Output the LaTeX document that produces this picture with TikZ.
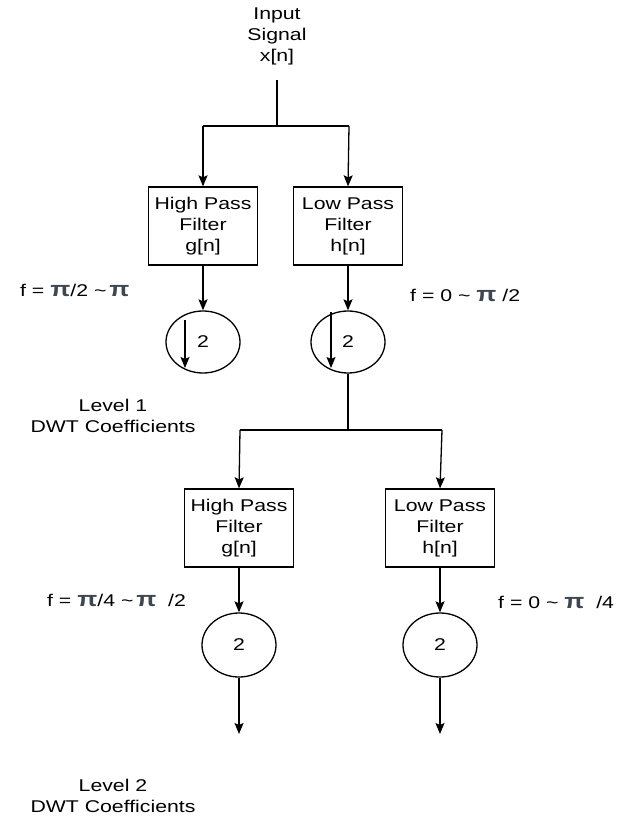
\documentclass[tikz,border=0pt]{standalone}
\usepackage{fontspec}
\setmainfont{Liberation Sans}[FakeStretch=1.25]
\usetikzlibrary{arrows.meta,shapes.geometric}
\definecolor{pigray}{HTML}{3E4650}
\newcommand\mypi{{\color{pigray}\fontsize{21}{21}\selectfont\bfseries π}}
\newcommand\tld{\textasciitilde}
\begin{document}
\begin{tikzpicture}[x=1pt,y=-1pt,
  every node/.style={font=\fontsize{17}{21}\selectfont},
  txt/.style={align=center,inner sep=0pt},
  lbl/.style={anchor=west,inner sep=0pt},
  filt/.style={draw,line width=1.3pt,minimum width=109pt,minimum height=78pt,align=center,inner sep=0pt},
  dn/.style={draw,ellipse,line width=1.3pt,minimum width=74pt,minimum height=62pt,inner sep=0pt},
  ln/.style={line width=1.3pt},
  arr/.style={line width=1.3pt,-{Stealth[length=11pt,width=9pt,inset=2pt]}}]
\useasboundingbox (0,0) rectangle (626,821);
\node[txt] (in) at (277,36) {Input\\Signal\\x[n]};
\coordinate (t0) at (277,80);
\coordinate (s0) at (277,126);
\coordinate (s0l) at (203,126);
\coordinate (s0r) at (349,126);
\node[filt] (h1) at (203,226) {High Pass\\Filter\\g[n]};
\node[filt] (l1) at (348,226) {Low Pass\\Filter\\h[n]};
\node[dn] (d1) at (203,342) {2};
\node[dn] (d2) at (348,342) {2};
\draw[ln] (t0) -- (s0);
\draw[ln] (s0l) -- (s0r);
\draw[arr] (s0l) -- (h1.north);
\draw[arr] (s0r) -- (l1.north);
\draw[arr] (h1.south) -- (d1.north);
\draw[arr] (l1.south) -- (d2.north);
\coordinate (a1t) at (185,320);
\coordinate (a1b) at (185,368);
\coordinate (a2t) at (331,312);
\coordinate (a2b) at (331,368);
\draw[arr] (a1t) -- (a1b);
\draw[arr] (a2t) -- (a2b);
\node[lbl] (f1) at (20,290) {f = \mypi/2 \tld\,\mypi};
\node[lbl] (f2) at (410,295) {f = 0 \tld\ \mypi\ /2};
\node[txt] (lv1) at (113,416) {Level 1\\DWT Coefficients};
\coordinate (s1) at (348,430);
\coordinate (s1l) at (240,430);
\coordinate (s1r) at (442,430);
\draw[ln] (d2.south) -- (s1);
\draw[ln] (s1l) -- (s1r);
\node[filt] (h2) at (239,528) {High Pass\\Filter\\g[n]};
\node[filt] (l2) at (440,528) {Low Pass\\Filter\\h[n]};
\draw[arr] (s1l) -- (h2.north);
\draw[arr] (s1r) -- (l2.north);
\node[dn,minimum height=64pt] (d3) at (239,645) {2};
\node[dn,minimum height=64pt] (d4) at (440,645) {2};
\draw[arr] (h2.south) -- (d3.north);
\draw[arr] (l2.south) -- (d4.north);
\coordinate (e3) at (239,734);
\coordinate (e4) at (440,734);
\draw[arr] (d3.south) -- (e3);
\draw[arr] (d4.south) -- (e4);
\node[lbl] (f3) at (47,600) {f = \mypi/4 \tld\,\mypi\ \ /2};
\node[lbl] (f4) at (498,602) {f = 0 \tld\ \mypi\ \ /4};
\node[txt] (lv2) at (113,796) {Level 2\\DWT Coefficients};
\end{tikzpicture}
\end{document}
